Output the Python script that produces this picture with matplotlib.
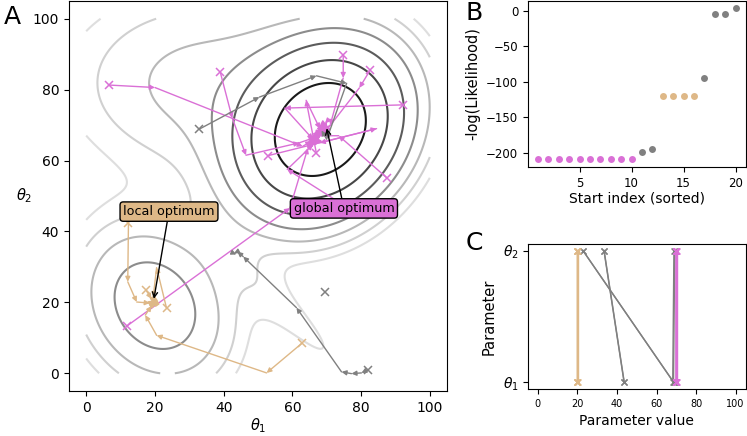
import numpy as np
import matplotlib
matplotlib.use("Agg")
import matplotlib.pyplot as plt

# ---------------- data ----------------
# landscape components: (mu_x, mu_y, sigma_x, sigma_y, rho, weight)
comp_global = (68.5, 68.5, 14.0, 14.0, 0.2, 1.0)
comp_local = (20.0, 19.0, 14.0, 14.5, -0.2, 0.2)
comp_lobe = (34.0, 82.0, 26.0, 17.0, 0.0, 0.1)
comp_ridge = (60.0, 16.0, 25.0, 5.0, 0.0, 0.033)  # strip along (1,-1)
contour_levels = [-3.52, -3.0, -2.48, -1.96, -1.44, -0.92, -0.4]
contour_greys = ['#dedede', '#d0d0d0', '#b8b8b8', '#8c8c8c', '#5c5c5c', '#474747', '#1a1a1a']

pink_paths = [
    [(6.5, 81.3), (20, 80.6), (63, 64), (65.5, 65.5), (64.5, 64), (67.5, 68.5), (69, 69.5)],
    [(39, 85), (42.5, 72), (46.5, 61.5), (62, 65), (66.5, 66.5), (65, 64.5), (68.5, 68), (69.5, 70)],
    [(74.8, 89.8), (74.8, 83.3), (71, 70), (69, 68.5), (70, 71), (69.5, 70.5)],
    [(82.7, 85.6), (79.5, 80.5), (69.5, 68), (68.5, 67), (69.5, 69.5), (70, 70)],
    [(92.2, 75.7), (57.8, 74.8), (66, 66), (67.5, 67.5), (66.5, 65), (68.5, 69.5), (69.5, 69.5)],
    [(53, 61.4), (84.5, 69), (68, 65), (67, 66.5), (68.5, 68.5), (67.5, 69), (70, 70)],
    [(87.4, 55.2), (73.5, 67), (69, 67), (68, 68.5), (69, 70.5), (70, 70)],
    [(11.8, 13.3), (59.3, 46.6), (64.5, 63.5), (66.5, 65.5), (65.5, 66.5), (68.8, 68.2), (70, 70)],
    [(74, 48), (58.5, 57.5), (66, 64.5), (67.5, 66), (66, 67), (68.5, 68), (70, 70)],
    [(67, 62), (64, 77), (68, 69), (66.5, 67), (67.5, 66), (68.5, 70)],
]
orange_paths = [
    [(12.3, 42.3), (12.1, 25.8), (14.7, 20.1), (18.5, 19.8), (19.6, 20.6), (19, 19.5), (20, 20)],
    [(62.7, 8.4), (52.5, 0.1), (20.5, 10.7), (17.2, 16.4), (19, 19), (20.4, 19.6), (19.5, 20.8), (20, 20)],
    [(23.4, 18.3), (20.5, 29.8), (19.5, 21.5), (20.6, 20.4), (19.2, 19.8), (20, 20)],
    [(17.3, 23.6), (19, 21), (20.5, 19.5), (19.8, 20.5), (20, 20)],
]
grey_paths = [
    [(81.9, 1.0), (80.1, 0.1), (77.2, -0.1), (74.3, 0.4), (61.2, 18.5), (45.7, 32.9),
     (44.0, 34.3), (43.0, 33.8), (43.7, 33.5)],
    [(69.5, 23.0)],
    [(32.8, 68.8), (50.4, 77.9), (67, 83.9), (75.8, 81.8), (70, 66), (68.5, 68.5)],
]

start_index = list(range(1, 21))
neg_log_lik = [-209] * 10 + [-199, -194] + [-120] * 4 + [-94, -4, -4, 4]
point_groups = ['pink'] * 10 + ['grey'] * 2 + ['orange'] * 4 + ['grey'] * 4

final_theta1 = [70, 70, 70, 69.8, 70.2, 70, 69.9, 70.1, 70, 70,
                20, 20, 20, 20.2,
                68.7, 43.7, 68.2, 68.6, 68.7, 43.6]
final_theta2 = [70, 70, 70, 69.8, 70.2, 70, 69.9, 70.1, 70, 70,
                20, 20, 20, 20.2,
                22.8, 33.5, 68.8, 69.2, 22.8, 33.4]
final_groups = ['pink'] * 10 + ['orange'] * 4 + ['grey'] * 6

colors = {'pink': 'orchid', 'orange': 'burlywood', 'grey': 'grey'}


def gauss(X, Y, c):
    mx, my, sx, sy, rho, w = c
    dx = (X - mx) / sx
    dy = (Y - my) / sy
    q = (dx ** 2 - 2 * rho * dx * dy + dy ** 2) / (1 - rho ** 2)
    return w * np.exp(-0.5 * q)


def strip(X, Y, c):
    mx, my, sa, sp, _, w = c
    u = ((X - mx) - (Y - my)) / np.sqrt(2)
    v = ((X - mx) + (Y - my)) / np.sqrt(2)
    return w * np.exp(-0.5 * ((u / sa) ** 2 + (v / sp) ** 2))


g = np.linspace(0, 100, 301)
X, Y = np.meshgrid(g, g)
P = gauss(X, Y, comp_global) + gauss(X, Y, comp_local) + gauss(X, Y, comp_lobe) + strip(X, Y, comp_ridge)
L = np.log(P)

fig = plt.figure(figsize=(7.47, 4.36), dpi=100)
W, H = 747.0, 436.0
axA = fig.add_axes([69 / W, 1 - 391 / H, 378 / W, 390 / H])
axB = fig.add_axes([528 / W, 1 - 167 / H, 217.5 / W, 166 / H])
axC = fig.add_axes([528 / W, 1 - 389 / H, 217.5 / W, 145 / H])

# ---- panel A ----
axA.contour(X, Y, L, levels=contour_levels, colors=contour_greys, linewidths=1.5, zorder=1)


def draw_path(ax, pts, color, z):
    pts = np.asarray(pts, dtype=float)
    ax.plot(pts[0, 0], pts[0, 1], marker='x', color=color, ms=6, mew=1.1, ls='none', zorder=z)
    for i in range(len(pts) - 1):
        ax.annotate('', xy=pts[i + 1], xytext=pts[i],
                    arrowprops=dict(arrowstyle='-|>', color=color, lw=1.0,
                                    mutation_scale=7, shrinkA=0, shrinkB=0),
                    zorder=z)


for p in pink_paths:
    draw_path(axA, p, colors['pink'], 3)
for p in orange_paths:
    draw_path(axA, p, colors['orange'], 4)
for p in grey_paths:
    draw_path(axA, p, colors['grey'], 5)

axA.annotate('local optimum', xy=(19.7, 21.0), xytext=(24.1, 45.6), fontsize=9.2,
             ha='center', va='center', zorder=10,
             bbox=dict(boxstyle='round,pad=0.25', fc='burlywood', ec='black', lw=1),
             arrowprops=dict(arrowstyle='->', color='black', lw=1, shrinkA=0, shrinkB=0))
axA.annotate('global optimum', xy=(70, 69.1), xytext=(75, 46.5), fontsize=9.2,
             ha='center', va='center', zorder=10,
             bbox=dict(boxstyle='round,pad=0.25', fc='orchid', ec='black', lw=1),
             arrowprops=dict(arrowstyle='->', color='black', lw=1, shrinkA=0, shrinkB=0))

axA.set_xlim(-5, 105)
axA.set_ylim(-5, 105)
axA.set_xticks(range(0, 101, 20))
axA.set_yticks(range(0, 101, 20))
axA.tick_params(labelsize=10)
axA.set_xlabel(r'$\theta_1$', fontsize=10.5, labelpad=1)
axA.set_ylabel(r'$\theta_2$', fontsize=10.5, rotation=0, ha='center', va='center')
axA.yaxis.set_label_coords(-0.119, 0.5)

# ---- panel B ----
for xi, yi, gr in zip(start_index, neg_log_lik, point_groups):
    axB.plot(xi, yi, 'o', color=colors[gr], ms=5, mec='none')
axB.set_xticks([5, 10, 15, 20])
axB.set_yticks([0, -50, -100, -150, -200])
axB.tick_params(labelsize=8.5)
axB.set_xlabel('Start index (sorted)', fontsize=10, labelpad=1)
axB.set_ylabel('-log(Likelihood)', fontsize=10.5)
axB.set_xlim(0.05, 20.95)
axB.set_ylim(-219.6, 13.6)

# ---- panel C ----
for order in ['grey', 'orange', 'pink']:
    for t1, t2, gr in zip(final_theta1, final_theta2, final_groups):
        if gr != order:
            continue
        axC.plot([t1, t2], [0, 1], '-x', color=colors[gr], lw=1.0, ms=4, mew=1.0)
axC.set_xlim(-5, 105)
axC.set_ylim(-0.05, 1.05)
axC.set_xticks(range(0, 101, 20))
axC.set_yticks([0, 1])
axC.set_yticklabels([r'$\theta_1$', r'$\theta_2$'])
axC.tick_params(axis='x', labelsize=7)
axC.tick_params(axis='y', labelsize=10)
axC.set_xlabel('Parameter value', fontsize=10)
axC.set_ylabel('Parameter', fontsize=10.5)

fig.text(12 / W, 1 - 17 / H, 'A', fontsize=18, ha='center', va='center')
fig.text(474 / W, 1 - 13 / H, 'B', fontsize=18, ha='center', va='center')
fig.text(474 / W, 1 - 243 / H, 'C', fontsize=18, ha='center', va='center')

fig.savefig('out.png', dpi=100)
